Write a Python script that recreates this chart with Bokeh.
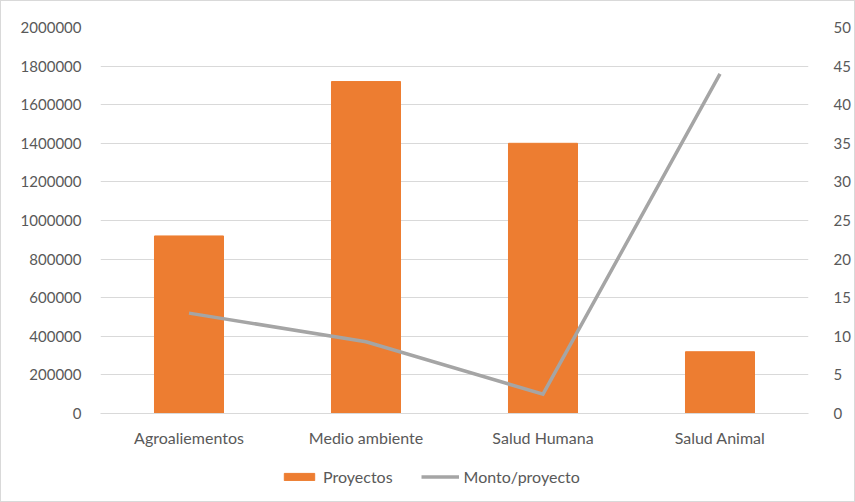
from bokeh.plotting import figure
from bokeh.layouts import column
from bokeh.models import (Range1d, FactorRange, LinearAxis, FixedTicker,
                          BasicTickFormatter, Legend, LegendItem, ColumnDataSource)
from bokeh.embed import file_html
from bokeh.resources import INLINE

# Data
categories = ["Agroaliementos", "Medio ambiente", "Salud Humana", "Salud Animal"]
proyectos = [920000, 1720000, 1400000, 320000]
monto_proyecto = [13, 9.3, 2.5, 44]
left_ticks = [0, 200000, 400000, 600000, 800000, 1000000, 1200000,
              1400000, 1600000, 1800000, 2000000]
right_ticks = [0, 5, 10, 15, 20, 25, 30, 35, 40, 45, 50]

FONT = "Lato"
TXT = "#595959"
GRID = "#d9d9d9"
BAR = "#ed7d31"
LINE = "#a5a5a5"
W = 853

src = ColumnDataSource(dict(cat=categories, proy=proyectos, monto=monto_proyecto))

p = figure(width=W, height=450, x_range=FactorRange(*categories, range_padding=0),
           y_range=Range1d(0, 2000000), output_backend="svg", toolbar_location=None,
           min_border_left=99, min_border_right=46, min_border_top=26, min_border_bottom=38)
p.extra_y_ranges = {"right": Range1d(0, 50)}

p.outline_line_color = None
p.background_fill_color = "white"
p.border_fill_color = "white"
p.xgrid.grid_line_color = None
p.ygrid.grid_line_color = GRID
p.ygrid.grid_line_width = 1
p.ygrid.ticker = FixedTicker(ticks=left_ticks)

bars = p.vbar(x="cat", top="proy", width=0.39, source=src, color=BAR)
line = p.line(x="cat", y="monto", source=src, y_range_name="right",
              line_color=LINE, line_width=3.5, line_join="miter")

# Left axis
ya = p.yaxis[0]
ya.ticker = FixedTicker(ticks=left_ticks)
ya.formatter = BasicTickFormatter(use_scientific=False)
ya.axis_line_color = None
ya.major_tick_line_color = None
ya.minor_tick_line_color = None
ya.major_label_standoff = 13
ya.major_label_text_font = FONT
ya.major_label_text_font_size = "15px"
ya.major_label_text_color = TXT

# Right axis
ra = LinearAxis(y_range_name="right", ticker=FixedTicker(ticks=right_ticks))
ra.axis_line_color = None
ra.major_tick_line_color = None
ra.minor_tick_line_color = None
ra.major_label_standoff = 19
ra.major_label_text_font = FONT
ra.major_label_text_font_size = "15px"
ra.major_label_text_color = TXT
p.add_layout(ra, "right")

# Category axis
xa = p.xaxis[0]
xa.axis_line_color = GRID
xa.major_tick_line_color = None
xa.minor_tick_line_color = None
xa.major_label_standoff = 8
xa.major_label_text_font = FONT
xa.major_label_text_font_size = "16px"
xa.major_label_text_color = TXT

# Legend strip under the chart (its frame lines up with the chart frame);
# the sample glyphs lie far outside the visible range, only their swatches show
leg = figure(width=W, height=50, x_range=Range1d(0, 1), y_range=Range1d(0, 1),
             output_backend="svg", toolbar_location=None,
             min_border_left=99, min_border_right=46, min_border_top=0, min_border_bottom=0)
leg.axis.visible = False
leg.grid.visible = False
leg.outline_line_color = None
leg_bar = leg.vbar(x=[-50], top=[-50], bottom=[-51], width=0.39, color=BAR)
leg_line = leg.line(x=[-50, -49], y=[-50, -50], line_color=LINE, line_width=3.5)
legend = Legend(items=[LegendItem(label="Proyectos", renderers=[leg_bar]),
                       LegendItem(label="Monto/proyecto", renderers=[leg_line])],
                orientation="horizontal", location=(180, 15),
                label_text_font=FONT, label_text_font_size="16px",
                label_text_color=TXT, glyph_width=38, glyph_height=9,
                spacing=28, label_standoff=5, border_line_color=None,
                background_fill_alpha=0, padding=0, margin=0)
leg.add_layout(legend)

layout = column(p, leg, spacing=0, styles={"border": "1px solid #d9d9d9"})

open("out.html", "w").write(file_html(layout, INLINE))
